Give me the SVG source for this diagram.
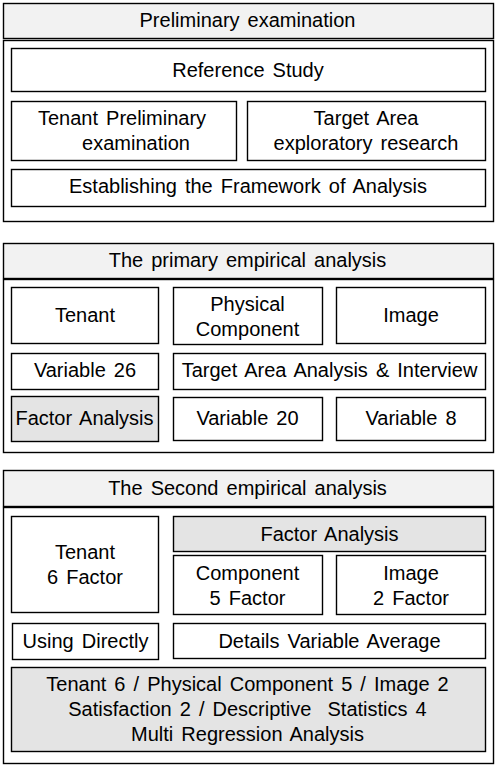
<svg xmlns="http://www.w3.org/2000/svg" width="497" height="769" viewBox="0 0 497 769">
<style>
rect{fill:#fff;stroke:#000;stroke-width:1.4}
rect.h{fill:#f2f2f2}
rect.g{fill:#e4e4e4}
text{font-family:"Liberation Sans",Arial,sans-serif;font-size:20px;fill:#000;text-anchor:middle;word-spacing:2.5px}
</style>
<rect width="497" height="769" style="fill:#fff;stroke:none"/>
<g id="sec1">
<g id="s1-header"><rect class="h" x="3.5" y="3.5" width="490" height="35"/><text x="247.5" y="27">Preliminary examination</text></g>
<g id="s1-body"><rect x="3.5" y="40.5" width="490" height="181"/></g>
<g id="s1-ref"><rect x="11.5" y="48.5" width="474" height="43"/><text x="248" y="77">Reference Study</text></g>
<g id="s1-tenant"><rect x="11.5" y="101.5" width="225" height="59"/><text x="122" y="125">Tenant Preliminary</text><text x="136" y="150">examination</text></g>
<g id="s1-target"><rect x="247.5" y="101.5" width="238" height="59"/><text x="366" y="125">Target Area</text><text x="366" y="150">exploratory research</text></g>
<g id="s1-frame"><rect x="11.5" y="169.5" width="474" height="37"/><text x="248" y="193">Establishing the Framework of Analysis</text></g>
</g>
<g id="sec2">
<g id="s2-header"><rect class="h" x="3.5" y="243.5" width="490" height="35"/><text x="247.5" y="267">The primary empirical analysis</text></g>
<g id="s2-body"><rect x="3.5" y="279.5" width="490" height="173"/></g>
<g id="s2-tenant"><rect x="11.5" y="287.5" width="147" height="56"/><text x="85" y="322">Tenant</text></g>
<g id="s2-phys"><rect x="173.5" y="287.5" width="149" height="57"/><text x="247.5" y="311">Physical</text><text x="247.5" y="336">Component</text></g>
<g id="s2-image"><rect x="336.5" y="287.5" width="149" height="56"/><text x="411" y="322">Image</text></g>
<g id="s2-var26"><rect x="11.5" y="353.5" width="147" height="36"/><text x="85" y="377">Variable 26</text></g>
<g id="s2-target"><rect x="173.5" y="353.5" width="312" height="36"/><text x="329.5" y="377">Target Area Analysis &amp; Interview</text></g>
<g id="s2-factor"><rect class="g" x="11.5" y="396.5" width="147" height="45"/><text x="84.5" y="425">Factor Analysis</text></g>
<g id="s2-var20"><rect x="173.5" y="397.5" width="149" height="43"/><text x="247.5" y="425">Variable 20</text></g>
<g id="s2-var8"><rect x="336.5" y="397.5" width="149" height="43"/><text x="411" y="425">Variable 8</text></g>
</g>
<g id="sec3">
<g id="s3-header"><rect class="h" x="3.5" y="470.5" width="490" height="36"/><text x="247.5" y="495">The Second empirical analysis</text></g>
<g id="s3-body"><rect x="3.5" y="507.5" width="490" height="256"/></g>
<g id="s3-tenant"><rect x="11.5" y="516.5" width="147" height="96"/><text x="85" y="559">Tenant</text><text x="85" y="584">6 Factor</text></g>
<g id="s3-factor"><rect class="g" x="173.5" y="516.5" width="312" height="35"/><text x="329.5" y="541">Factor Analysis</text></g>
<g id="s3-comp"><rect x="173.5" y="555.5" width="149" height="59"/><text x="247.5" y="580">Component</text><text x="247.5" y="605">5 Factor</text></g>
<g id="s3-image"><rect x="336.5" y="555.5" width="149" height="59"/><text x="411" y="580">Image</text><text x="411" y="605">2 Factor</text></g>
<g id="s3-using"><rect x="12.5" y="623.5" width="146" height="36"/><text x="85.5" y="648">Using Directly</text></g>
<g id="s3-details"><rect x="173.5" y="623.5" width="312" height="35"/><text x="329.5" y="648">Details Variable Average</text></g>
<g id="s3-summary"><rect class="g" x="11.5" y="667.5" width="474" height="84"/><text x="247.5" y="691">Tenant 6 / Physical Component 5 / Image 2</text><text x="247.5" y="716" xml:space="preserve">Satisfaction 2 / Descriptive  Statistics 4</text><text x="247.5" y="741">Multi Regression Analysis</text></g>
</g>
<g id="connectors"/>
</svg>
